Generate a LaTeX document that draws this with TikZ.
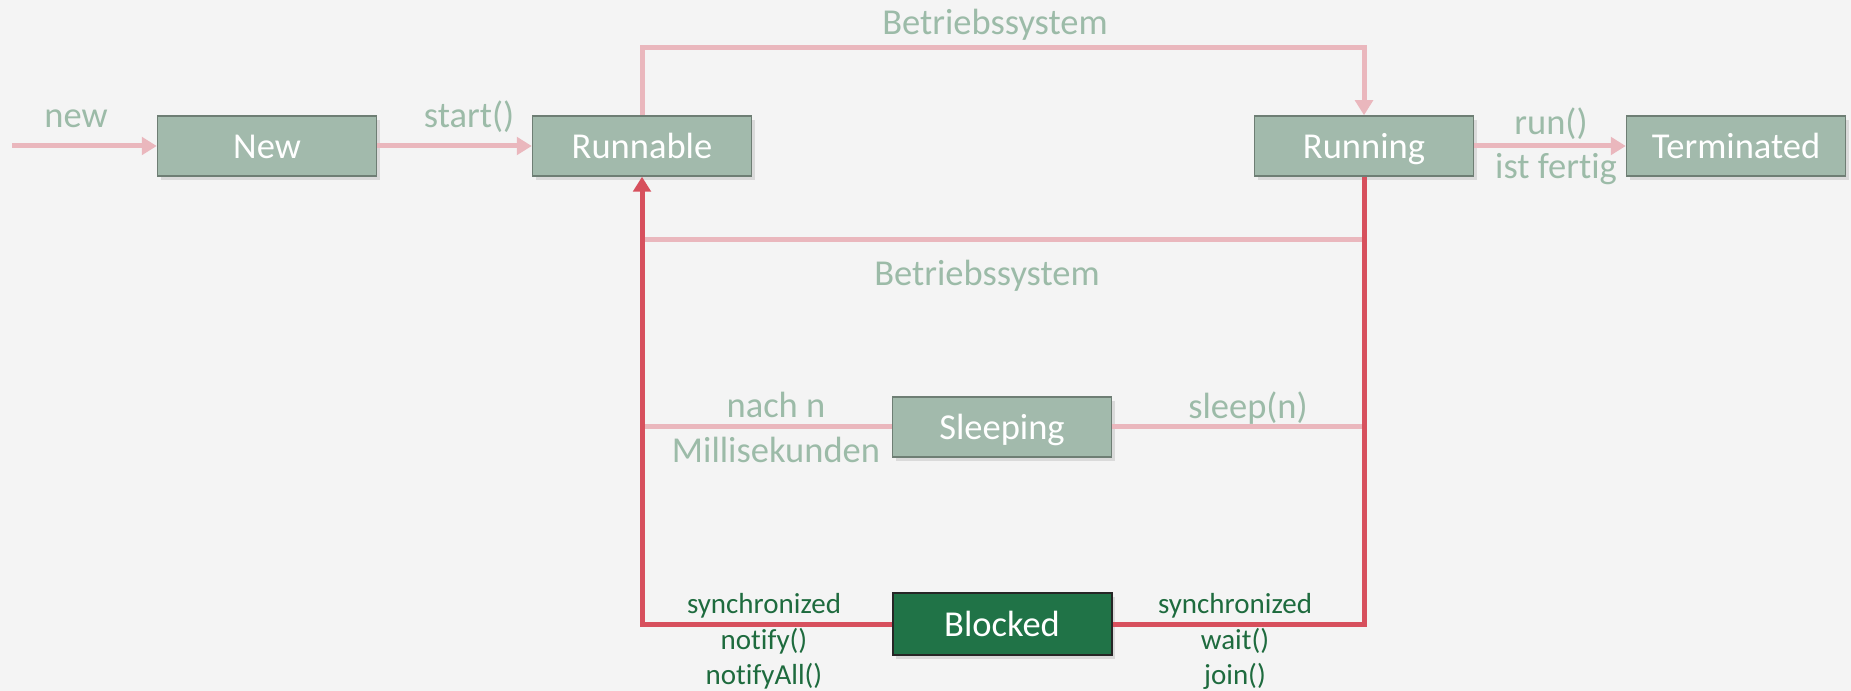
\documentclass[tikz,border=0pt]{standalone}
\usepackage{fontspec}
\setmainfont{Carlito}[RawFeature={-liga}]
\usetikzlibrary{arrows.meta,shadows,calc}

\definecolor{bg}{HTML}{F4F4F4}
\definecolor{statefill}{HTML}{A2BAAC}
\definecolor{stateline}{HTML}{6E7E74}
\definecolor{blockfill}{HTML}{207347}
\definecolor{lbl}{HTML}{9CBBA8}
\definecolor{lbldark}{HTML}{1E6B3E}
\definecolor{pinkline}{HTML}{EAB7BD}
\definecolor{redline}{HTML}{D7505D}

\tikzset{
  state/.style={draw=stateline, line width=0.6pt, fill=statefill, text=white,
    minimum width=87.6pt, minimum height=24pt, inner sep=0pt,
    text height=10.2pt, text depth=0pt,
    font=\fontsize{14.6}{16}\selectfont,
    drop shadow={shadow xshift=1.2pt, shadow yshift=-1.6pt, opacity=0.22}},
  blockstate/.style={state, fill=blockfill, draw=black!85, line width=0.8pt,
    minimum height=24.8pt},
  lab/.style={text=lbl, font=\fontsize{14.6}{16}\selectfont, inner sep=0pt,
    text height=10.2pt, text depth=0pt},
  sublab/.style={text=lbldark, font=\fontsize{11.6}{14}\selectfont, inner sep=0pt,
    text height=8.2pt, text depth=0pt},
  soft/.style={draw=pinkline, line width=2pt},
  hard/.style={draw=redline, line width=2pt},
  softarrow/.style={soft, -{Triangle[length=6pt, width=7pt]}},
  hardarrow/.style={hard, -{Triangle[length=6pt, width=7pt]}},
}

\begin{document}
\begin{tikzpicture}[x=0.4pt, y=-0.4pt]
  % canvas
  \fill[bg] (0,0) rectangle (1851,691);
  \useasboundingbox (0,0) rectangle (1851,691);

  % states
  \node[state] (new) at (267,146) {New};
  \node[state] (runnable) at (642,146) {Runnable};
  \node[state] (running) at (1364,146) {Running};
  \node[state] (terminated) at (1736,146) {Terminated};
  \node[state] (sleeping) at (1002,427) {Sleeping};
  \node[blockstate] (blocked) at (1002,624) {Blocked};

  % helper points
  \coordinate (start) at (12,146);
  \coordinate (osmid) at (1002,240);

  % scheduler and start/end transitions
  \draw[softarrow] (start) -- (new.west);
  \draw[softarrow] (new.east) -- (runnable.west);
  \draw[softarrow] (runnable.north) -- ++(0,-68) -| (running.north);
  \draw[softarrow] (running.east) -- (terminated.west);
  \draw[soft] (osmid -| running.south) -- (osmid -| runnable.south);
  \draw[soft] (sleeping.east) -- (sleeping.east -| running.south);
  \draw[soft] (sleeping.west) -- (sleeping.west -| runnable.south);

  % blocking path
  \draw[hard, line join=miter] (running.south) |- (blocked.east);
  \draw[hardarrow, line join=miter] (blocked.west) -| (runnable.south);

  % labels
  \node[lab] (lnew) at (76,115) {new};
  \node[lab] (lstart) at (469,115) {start()};
  \node[lab] (los1) at (995,22) {Betriebssystem};
  \node[lab] (lrun) at (1551,122) {run()};
  \node[lab] (lfertig) at (1556,166) {ist fertig};
  \node[lab] (los2) at (987,273) {Betriebssystem};
  \node[lab] (lnach) at (776,405) {nach n};
  \node[lab] (lmilli) at (776,450) {Millisekunden};
  \node[lab] (lsleep) at (1248,406) {sleep(n)};

  \node[sublab] (lsync1) at (764,603) {synchronized};
  \node[sublab] (lnotify) at (764,639) {notify()};
  \node[sublab] (lnotifyall) at (764,674) {notifyAll()};
  \node[sublab] (lsync2) at (1235,603) {synchronized};
  \node[sublab] (lwait) at (1235,639) {wait()};
  \node[sublab] (ljoin) at (1235,674) {join()};
\end{tikzpicture}
\end{document}
